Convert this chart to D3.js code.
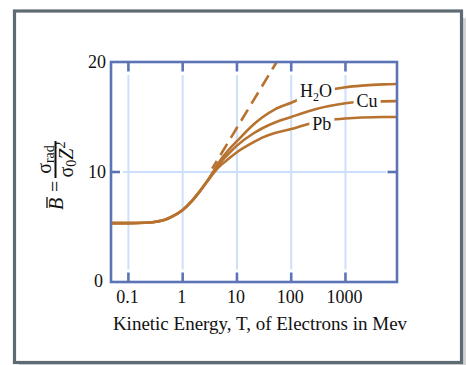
<!DOCTYPE html>
<html><head><meta charset="utf-8">
<script src="https://cdn.jsdelivr.net/npm/d3@7"></script>
<style>body{margin:0;background:#fff}svg text{font-family:"Liberation Serif","Times New Roman",serif;fill:#111}</style>
</head><body>
<svg id="c" width="467" height="365"></svg>
<script>
// ---- data ----
const energies = [0.0478,0.1,0.2,0.3,0.5,0.7,1,1.5,2,3,4,5,7,10,20,30,50,100,200,300,500,1000,2000,5000,8900];
const h2oValues = [5.35,5.35,5.38,5.45,5.7,6.05,6.55,7.4,8.15,9.35,10.35,11.1,12.0,12.8,14.3,15.0,15.7,16.3,16.9,17.2,17.45,17.7,17.85,17.97,18.0];
const cuValues  = [5.35,5.35,5.38,5.45,5.7,6.05,6.55,7.4,8.15,9.35,10.25,10.9,11.65,12.4,13.5,14.0,14.5,15.0,15.5,15.75,16.0,16.25,16.38,16.42,16.45];
const pbValues  = [5.35,5.35,5.38,5.45,5.7,6.05,6.55,7.4,8.15,9.3,10.1,10.6,11.2,11.8,12.7,13.15,13.55,13.9,14.35,14.55,14.72,14.86,14.95,15.0,15.0];
const dashedEnergies = [3.5,54];
const dashedValues = [10.3,20];
const seriesNames = ["H2O","Cu","Pb"];
const labelEnergies = [285,2500,367];
const labelValues = [16.8,15.9,13.8];
const xTicks = [0.1,1,10,100,1000];
const xTickLabels = ["0.1","1","10","100","1000"];
const yTicks = [0,10,20];
const xDomain = [0.0478,8900];
const yDomain = [0,20];

// ---- setup ----
const svg = d3.select("#c");
const L=111,R=397,T=62,B=282;
const x = d3.scaleLog().domain(xDomain).range([L,R]);
const y = d3.scaleLinear().domain(yDomain).range([B,T]);
const frameC="#5b74b6", gridC="#cde0fb", curveC="#b8722f";

// outer frame with shadow
svg.append("rect").attr("x",19).attr("y",18).attr("width",447).attr("height",352).attr("fill","#d2d2d2");
svg.append("rect").attr("x",14.5).attr("y",11).attr("width",447).attr("height",351.5)
  .attr("fill","#fff").attr("stroke","#5f6b72").attr("stroke-width",3.2);

// gridlines
const grid = svg.append("g").attr("stroke",gridC).attr("stroke-width",2);
xTicks.forEach(t=>{
  grid.append("line").attr("x1",x(t)).attr("x2",x(t)).attr("y1",T+13).attr("y2",B-12.5);
});
yTicks.filter(v=>v>0&&v<20).forEach(v=>{
  grid.append("line").attr("x1",L+12).attr("x2",R-11).attr("y1",y(v)).attr("y2",y(v));
});

// curves
const line = d3.line().x(d=>x(d[0])).y(d=>y(d[1])).curve(d3.curveMonotoneX);
const curveG = svg.append("g");
[h2oValues,cuValues,pbValues].forEach(vals=>{
  curveG.append("path").datum(energies.map((e,i)=>[e,vals[i]]))
    .attr("d",line).attr("fill","none").attr("stroke",curveC).attr("stroke-width",2.6);
});
curveG.append("path").datum(dashedEnergies.map((e,i)=>[e,dashedValues[i]]))
  .attr("d",line).attr("fill","none").attr("stroke",curveC).attr("stroke-width",2.6)
  .attr("stroke-dasharray","13,7").attr("stroke-dashoffset",4);

// labels with white knock-out
seriesNames.forEach((name,i)=>{
  const g = svg.append("g");
  const bg = g.append("rect").attr("fill","#fff");
  const t = g.append("text").attr("x",x(labelEnergies[i])).attr("y",y(labelValues[i]))
    .attr("text-anchor","middle").attr("font-size",18);
  if(name==="H2O"){
    t.append("tspan").text("H");
    t.append("tspan").text("2").attr("font-size",12).attr("dy",4);
    t.append("tspan").text("O").attr("dy",-4);
  } else t.text(name);
  const bb = t.node().getBBox();
  bg.attr("x",bb.x-3).attr("y",bb.y+2).attr("width",bb.width+6).attr("height",bb.height-4);
});

// plot frame
svg.append("rect").attr("x",L).attr("y",T).attr("width",R-L).attr("height",B-T)
  .attr("fill","none").attr("stroke",frameC).attr("stroke-width",2.6);
const ticks = svg.append("g").attr("stroke",frameC).attr("stroke-width",2.6);
xTicks.forEach(t=>{
  ticks.append("line").attr("x1",x(t)).attr("x2",x(t)).attr("y1",T).attr("y2",T+9.5);
  ticks.append("line").attr("x1",x(t)).attr("x2",x(t)).attr("y1",B).attr("y2",B-9.5);
});
yTicks.filter(v=>v>0&&v<20).forEach(v=>{
  ticks.append("line").attr("x1",L).attr("x2",L+9).attr("y1",y(v)).attr("y2",y(v));
  ticks.append("line").attr("x1",R).attr("x2",R-9.5).attr("y1",y(v)).attr("y2",y(v));
});

// tick labels
xTicks.forEach((t,i)=>{
  svg.append("text").attr("x",x(t)-1).attr("y",303).attr("text-anchor","middle")
    .attr("font-size",18).text(xTickLabels[i]);
});
yTicks.forEach(v=>{
  svg.append("text").attr("x",v===0?103:106).attr("y",y(v)).attr("dy",v===0?"0.3em":"0.36em")
    .attr("text-anchor","end").attr("font-size",18).text(v);
});

// x axis title
svg.append("text").attr("x",260).attr("y",330).attr("text-anchor","middle")
  .attr("font-size",19).text("Kinetic Energy, T, of Electrons in Mev");

// y axis title (rotated): local (a,b) -> screen (b,-a)
const yl = svg.append("g").attr("transform","rotate(-90)");
yl.append("text").attr("x",-210).attr("y",63).attr("font-size",20).attr("font-style","italic").text("B");
yl.append("line").attr("x1",-208).attr("x2",-197).attr("y1",47).attr("y2",47).attr("stroke","#111").attr("stroke-width",1.3);
yl.append("text").attr("x",-192).attr("y",62).attr("font-size",20).text("=");
yl.append("line").attr("x1",-178).attr("x2",-141).attr("y1",55.5).attr("y2",55.5).attr("stroke","#111").attr("stroke-width",2);
const num = yl.append("text").attr("x",-159.5).attr("y",51).attr("text-anchor","middle").attr("font-size",20);
num.append("tspan").text("σ");
num.append("tspan").text("rad").attr("font-size",14).attr("dy",3);
const den = yl.append("text").attr("x",-159.5).attr("y",73).attr("text-anchor","middle").attr("font-size",20);
den.append("tspan").text("σ");
den.append("tspan").text("0").attr("font-size",14).attr("dy",3);
den.append("tspan").text("Z").attr("font-style","italic").attr("dy",-3);
den.append("tspan").text("2").attr("font-size",14).attr("dy",-8);
</script>
</body></html>
